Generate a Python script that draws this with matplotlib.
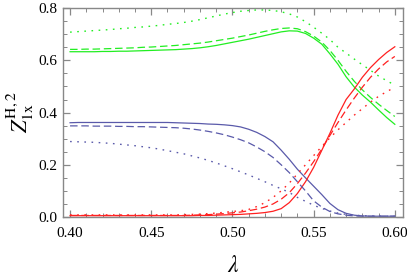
import numpy as np
import matplotlib
matplotlib.use("Agg")
import matplotlib.pyplot as plt
from matplotlib.ticker import MultipleLocator

plt.rcParams['font.family'] = ['Liberation Serif', 'DejaVu Serif']
plt.rcParams['mathtext.fontset'] = 'stix'

lam = [0.400, 0.405, 0.410, 0.415, 0.420, 0.425, 0.430, 0.435, 0.440, 0.445,
       0.450, 0.455, 0.460, 0.465, 0.470, 0.475, 0.480, 0.485, 0.490, 0.495,
       0.500, 0.505, 0.510, 0.515, 0.520, 0.525, 0.530, 0.535, 0.540, 0.545,
       0.550, 0.555, 0.560, 0.565, 0.570, 0.575, 0.580, 0.585, 0.590, 0.595,
       0.600]

# green
g_solid = [0.633, 0.633, 0.633, 0.633, 0.634, 0.634, 0.635, 0.635, 0.636, 0.637,
           0.638, 0.639, 0.640, 0.641, 0.643, 0.645, 0.648, 0.652, 0.657, 0.663,
           0.669, 0.675, 0.681, 0.688, 0.695, 0.702, 0.709, 0.713, 0.712, 0.703,
           0.685, 0.662, 0.625, 0.585, 0.537, 0.498, 0.467, 0.440, 0.410, 0.381,
           0.355]
g_dash = [0.642, 0.642, 0.643, 0.643, 0.644, 0.645, 0.646, 0.647, 0.648, 0.650,
          0.651, 0.653, 0.655, 0.657, 0.660, 0.663, 0.666, 0.670, 0.675, 0.680,
          0.685, 0.691, 0.697, 0.704, 0.711, 0.717, 0.722, 0.724, 0.721, 0.710,
          0.693, 0.670, 0.638, 0.600, 0.558, 0.520, 0.487, 0.458, 0.432, 0.408,
          0.385]
g_dot = [0.708, 0.710, 0.712, 0.714, 0.716, 0.718, 0.721, 0.723, 0.726, 0.728,
         0.731, 0.734, 0.738, 0.741, 0.745, 0.750, 0.756, 0.763, 0.770, 0.777,
         0.783, 0.788, 0.791, 0.793, 0.793, 0.791, 0.786, 0.778, 0.766, 0.748,
         0.727, 0.704, 0.680, 0.650, 0.628, 0.605, 0.583, 0.562, 0.540, 0.522,
         0.505]

# blue
b_solid = [0.361, 0.362, 0.362, 0.362, 0.362, 0.362, 0.362, 0.362, 0.362, 0.362,
           0.362, 0.362, 0.362, 0.361, 0.360, 0.359, 0.358, 0.356, 0.355, 0.353,
           0.350, 0.345, 0.336, 0.324, 0.308, 0.288, 0.256, 0.221, 0.183, 0.150,
           0.118, 0.086, 0.052, 0.028, 0.014, 0.007, 0.004, 0.003, 0.003, 0.003,
           0.003]
b_dash = [0.349, 0.349, 0.349, 0.348, 0.348, 0.348, 0.347, 0.347, 0.346, 0.346,
          0.345, 0.344, 0.343, 0.342, 0.340, 0.337, 0.333, 0.328, 0.322, 0.315,
          0.306, 0.296, 0.284, 0.268, 0.250, 0.228, 0.200, 0.170, 0.135, 0.100,
          0.062, 0.038, 0.021, 0.012, 0.007, 0.004, 0.003, 0.003, 0.003, 0.003,
          0.003]
b_dot = [0.289, 0.288, 0.287, 0.286, 0.284, 0.282, 0.279, 0.276, 0.273, 0.269,
         0.265, 0.260, 0.254, 0.248, 0.242, 0.234, 0.226, 0.217, 0.207, 0.196,
         0.185, 0.173, 0.161, 0.148, 0.135, 0.121, 0.108, 0.094, 0.075, 0.060,
         0.045, 0.033, 0.023, 0.015, 0.010, 0.007, 0.005, 0.004, 0.003, 0.003,
         0.003]

# red
r_solid = [0.005, 0.005, 0.005, 0.005, 0.005, 0.005, 0.005, 0.005, 0.005, 0.005,
           0.005, 0.005, 0.005, 0.005, 0.005, 0.005, 0.006, 0.006, 0.007, 0.008,
           0.009, 0.010, 0.012, 0.014, 0.017, 0.022, 0.032, 0.055, 0.090, 0.135,
           0.190, 0.255, 0.320, 0.390, 0.450, 0.490, 0.535, 0.572, 0.603, 0.630,
           0.652]
r_dash = [0.006, 0.006, 0.006, 0.006, 0.006, 0.006, 0.006, 0.006, 0.006, 0.006,
          0.006, 0.006, 0.006, 0.006, 0.006, 0.007, 0.008, 0.009, 0.011, 0.013,
          0.016, 0.019, 0.024, 0.030, 0.038, 0.050, 0.068, 0.093, 0.128, 0.168,
          0.212, 0.260, 0.312, 0.362, 0.410, 0.455, 0.497, 0.535, 0.567, 0.594,
          0.615]
r_dot = [0.008, 0.008, 0.008, 0.008, 0.008, 0.008, 0.008, 0.008, 0.008, 0.008,
         0.008, 0.008, 0.008, 0.008, 0.009, 0.010, 0.011, 0.013, 0.015, 0.018,
         0.021, 0.024, 0.029, 0.040, 0.055, 0.075, 0.100, 0.130, 0.165, 0.200,
         0.235, 0.270, 0.303, 0.334, 0.362, 0.390, 0.415, 0.440, 0.462, 0.480,
         0.497]

green = '#22ee22'
blue = '#5a5aaa'
red = '#ff2020'
dash = (0, (6, 3))
dot = (0, (1.2, 4))

fig = plt.figure(figsize=(4.07, 2.8), dpi=100)
ax = fig.add_axes([0.155, 0.225, 0.835, 0.746])

lw = 0.9
for ys, c in [(g_solid, green), (b_solid, blue), (r_solid, red)]:
    ax.plot(lam, ys, color=c, lw=lw, ls='-')
for ys, c in [(g_dash, green), (b_dash, blue), (r_dash, red)]:
    ax.plot(lam, ys, color=c, lw=lw, ls=dash)
for ys, c in [(g_dot, green), (b_dot, blue), (r_dot, red)]:
    ax.plot(lam, ys, color=c, lw=lw*1.1, ls=dot)

ax.set_xlim(0.3957, 0.605)
ax.set_ylim(0.0, 0.8)
ax.xaxis.set_minor_locator(MultipleLocator(0.01))
ax.yaxis.set_minor_locator(MultipleLocator(0.05))
ax.set_xticks([0.40, 0.45, 0.50, 0.55, 0.60])
ax.set_xticklabels(['0.40', '0.45', '0.50', '0.55', '0.60'])
ax.set_yticks([0.0, 0.2, 0.4, 0.6, 0.8])
ax.set_yticklabels(['0.0', '0.2', '0.4', '0.6', '0.8'])

for s in ax.spines.values():
    s.set_color('#888888')
    s.set_linewidth(1.0)
ax.tick_params(which='both', direction='in', top=True, right=True,
               color='#888888', labelsize=11)
ax.tick_params(axis='x', pad=7)
ax.tick_params(axis='y', pad=4)
ax.tick_params(which='major', length=5, width=0.9)
ax.tick_params(which='minor', length=3, width=0.7)

ax.set_xlabel(r'$\lambda$', fontsize=17, labelpad=12)
ax.set_ylabel(r'$Z^{\mathrm{H},2}_{\mathrm{1x}}$', fontsize=16, labelpad=2)

fig.savefig('out.png', dpi=100)
